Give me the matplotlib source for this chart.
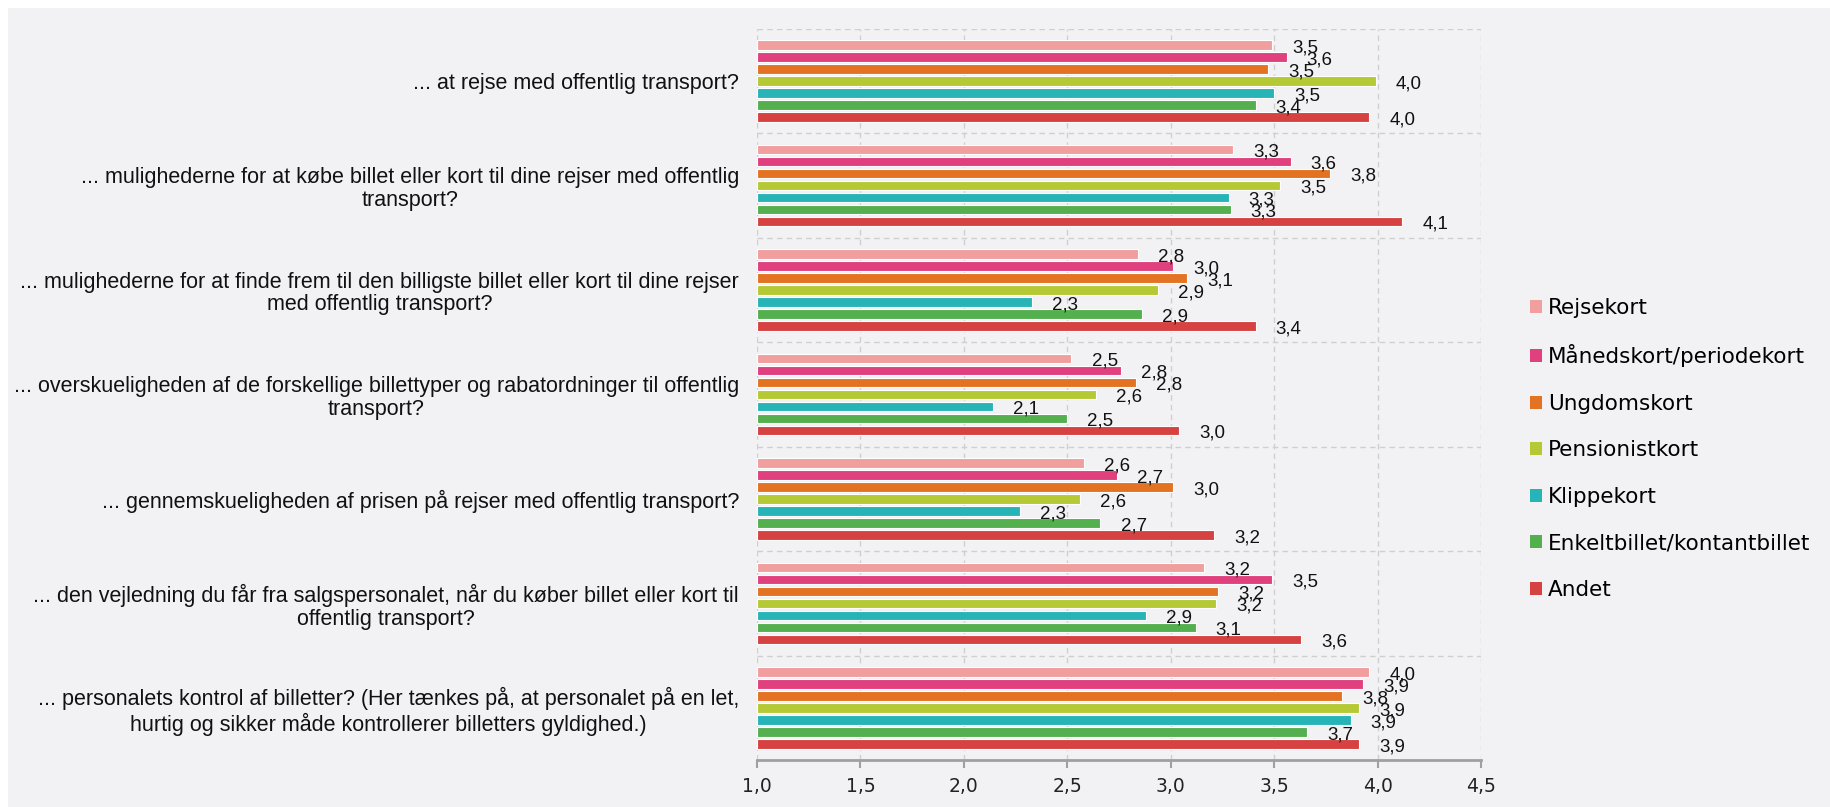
#!/usr/bin/env python3
"""
Grouped horizontal bar chart: satisfaction scores per ticket type.
"""

import matplotlib
matplotlib.use("Agg")
import matplotlib.pyplot as plt
from matplotlib.patches import Patch, Rectangle
import numpy as np

# Categories (questions), top to bottom
categories = [
    "... at rejse med offentlig transport?",
    "... mulighederne for at købe billet eller kort til dine rejser med offentlig\ntransport?",
    "... mulighederne for at finde frem til den billigste billet eller kort til dine rejser\nmed offentlig transport?",
    "... overskueligheden af de forskellige billettyper og rabatordninger til offentlig\ntransport?",
    "... gennemskueligheden af prisen på rejser med offentlig transport?",
    "... den vejledning du får fra salgspersonalet, når du køber billet eller kort til\noffentlig transport?",
    "... personalets kontrol af billetter? (Her tænkes på, at personalet på en let,\nhurtig og sikker måde kontrollerer billetters gyldighed.)",
]

series_names = [
    "Rejsekort",
    "Månedskort/periodekort",
    "Ungdomskort",
    "Pensionistkort",
    "Klippekort",
    "Enkeltbillet/kontantbillet",
    "Andet",
]

rejsekort = [3.49, 3.30, 2.84, 2.52, 2.58, 3.16, 3.96]
maanedskort = [3.56, 3.58, 3.01, 2.76, 2.74, 3.49, 3.93]
ungdomskort = [3.47, 3.77, 3.08, 2.83, 3.01, 3.23, 3.83]
pensionistkort = [3.99, 3.53, 2.94, 2.64, 2.56, 3.22, 3.91]
klippekort = [3.50, 3.28, 2.33, 2.14, 2.27, 2.88, 3.87]
enkeltbillet = [3.41, 3.29, 2.86, 2.50, 2.66, 3.12, 3.66]
andet = [3.96, 4.12, 3.41, 3.04, 3.21, 3.63, 3.91]

series_values = [rejsekort, maanedskort, ungdomskort, pensionistkort,
                 klippekort, enkeltbillet, andet]

colors = ["#f19e9e", "#e0407e", "#e37322", "#b5c935",
          "#27b4b6", "#54b04f", "#d64242"]

x_ticks = [1.0, 1.5, 2.0, 2.5, 3.0, 3.5, 4.0, 4.5]

W, H = 1830, 807


def comma(v):
    return f"{v:.1f}".replace(".", ",")


def main():
    fig = plt.figure(figsize=(W / 100, H / 100), dpi=100, facecolor="white")
    # grey panel with a thin white margin on top and left
    fig.patches.append(Rectangle((8 / W, 0), 1, 1 - 8 / H, transform=fig.transFigure,
                                 facecolor="#f2f2f4", edgecolor="none", zorder=-10))

    ax = fig.add_axes([757 / W, 1 - 760 / H, (1481 - 757) / W, (760 - 29) / H])
    ax.set_facecolor("none")

    y = np.arange(len(categories))
    pitch = 0.115
    bar_h = 0.092
    n = len(series_names)

    for i, (name, vals, col) in enumerate(zip(series_names, series_values, colors)):
        pos = y + (i - (n - 1) / 2) * pitch
        ax.barh(pos, np.array(vals) - 1.0, left=1.0, height=bar_h, color=col,
                edgecolor="white", linewidth=0.8, label=name, zorder=3)
        for p, v in zip(pos, vals):
            ax.annotate(comma(v), (v, p), xytext=(14.5, -2), textcoords="offset points",
                        ha="left", va="center", fontsize=13.5,
                        family="Liberation Sans", color="#111111", zorder=4)

    ax.set_xlim(1.0, 4.5)
    ax.set_ylim(len(categories) - 0.5, -0.5)

    # dashed grid: vertical at ticks, horizontal between groups
    for xt in x_ticks:
        ax.axvline(xt, color="#cfcfcf", lw=1, ls=(0, (4, 3)), zorder=1)
    for yb in np.arange(-0.5, len(categories), 1.0):
        ax.axhline(yb, color="#cfcfcf", lw=1, ls=(0, (4, 3)), zorder=1)

    ax.set_xticks(x_ticks)
    ax.set_xticklabels([comma(t) for t in x_ticks], fontsize=13.5,
                       family="DejaVu Sans", color="#222222")
    ax.tick_params(axis="x", length=6, width=1.5, color="#a0a0a0", pad=6)

    ax.set_yticks(y)
    ax.set_yticklabels(categories, fontsize=15.5, family="Liberation Sans",
                       multialignment="center", color="#111111",
                       linespacing=1.12)
    ax.tick_params(axis="y", length=0, pad=13)

    for s in ["top", "right", "left"]:
        ax.spines[s].set_visible(False)
    ax.spines["bottom"].set_color("#a0a0a0")
    ax.spines["bottom"].set_linewidth(2)

    handles = [Patch(facecolor=c, edgecolor="none", label=nm)
               for nm, c in zip(series_names, colors)]
    fig.legend(handles=handles, loc="upper left",
               bbox_to_anchor=(1530 / W, 1 - 298 / H), frameon=False,
               prop={"family": "DejaVu Sans", "size": 15.5},
               handlelength=0.55, handleheight=0.55, handletextpad=0.3,
               labelspacing=1.23, borderpad=0, borderaxespad=0)

    fig.savefig("out.png", dpi=100, facecolor=fig.get_facecolor())


if __name__ == "__main__":
    main()
